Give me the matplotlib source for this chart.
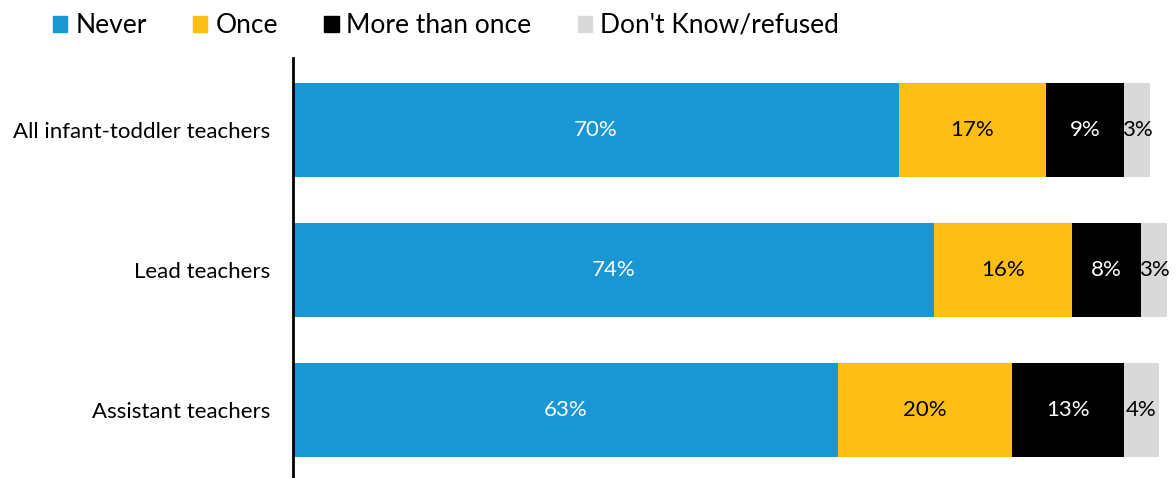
import matplotlib.pyplot as plt
from matplotlib.patches import Patch
import numpy as np

plt.rcParams['font.family'] = ['Lato', 'DejaVu Sans']

groups = ['All infant-toddler teachers', 'Lead teachers', 'Assistant teachers']
series = ['Never', 'Once', 'More than once', "Don't Know/refused"]
never = [70, 74, 63]
once = [17, 16, 20]
more = [9, 8, 13]
dk = [3, 3, 4]

colors = ['#1996d4', '#fdbe14', '#000000', '#d9d9d9']
text_colors = ['white', 'black', 'white', 'black']

fig = plt.figure(figsize=(11.76, 4.78), dpi=100)
ax = fig.add_axes([0.2491, 0.0, 0.7509, 0.8787])

y = np.arange(len(groups))
left = np.zeros(len(groups))
for vals, c, tc in zip([never, once, more, dk], colors, text_colors):
    vals = np.array(vals)
    ax.barh(y, vals, left=left, height=0.67, color=c)
    for yi, l, v in zip(y, left, vals):
        ax.text(l + v / 2, yi, f'{v}%', ha='center', va='center', color=tc, fontsize=16)
    left = left + vals

ax.set_xlim(0, 102)
ax.set_ylim(2.486, -0.514)
ax.set_yticks(y)
ax.set_yticklabels(groups, fontsize=16)
ax.tick_params(axis='y', length=0, pad=16)
ax.set_xticks([])
for s in ['top', 'right', 'bottom']:
    ax.spines[s].set_visible(False)
ax.spines['left'].set_linewidth(2)

handles = [Patch(color=c, label=s) for c, s in zip(colors, series)]
fig.legend(handles=handles, loc='upper left', bbox_to_anchor=(0.036, 0.995), ncol=4,
           frameon=False, fontsize=19, handlelength=0.55, handleheight=0.55,
           handletextpad=0.3, columnspacing=1.75, borderaxespad=0)

fig.savefig('out.png', dpi=100)
